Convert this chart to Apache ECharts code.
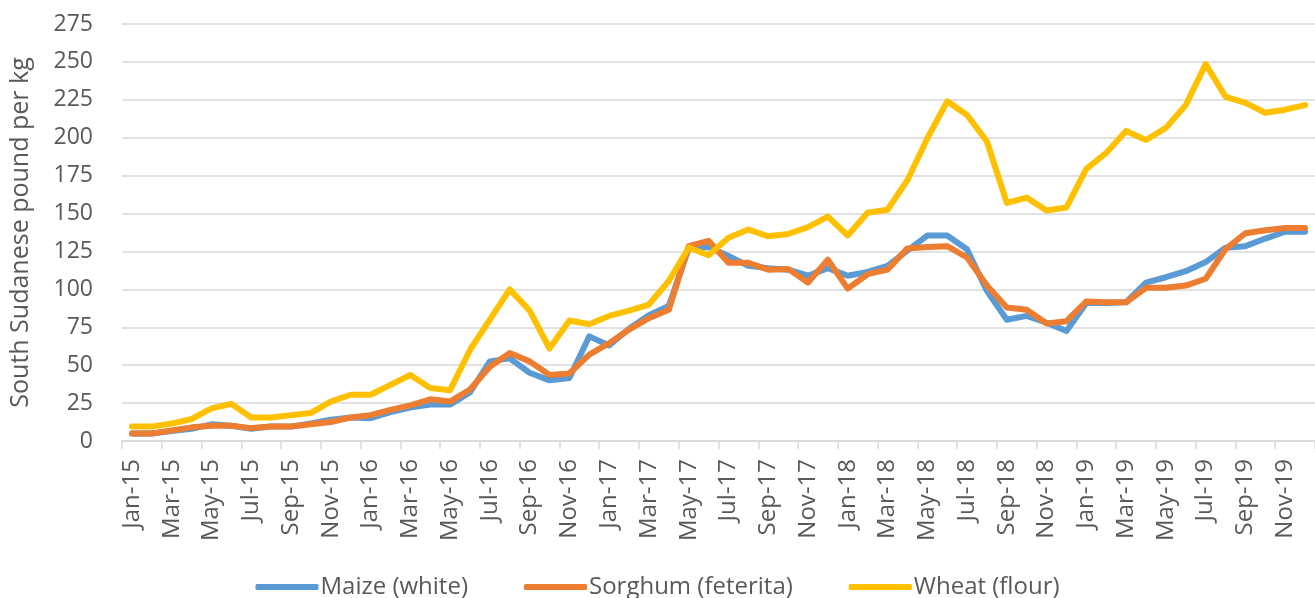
<!DOCTYPE html>
<html>
<head>
<meta charset="utf-8">
<script src="https://cdn.jsdelivr.net/npm/echarts@6/dist/echarts.min.js"></script>
<style>
html,body{margin:0;padding:0;background:#fff;}
#chart{width:1315px;height:598px;}
</style>
</head>
<body>
<div id="chart"></div>
<script>
var categories = ["Jan-15","Feb-15","Mar-15","Apr-15","May-15","Jun-15","Jul-15","Aug-15","Sep-15","Oct-15","Nov-15","Dec-15",
"Jan-16","Feb-16","Mar-16","Apr-16","May-16","Jun-16","Jul-16","Aug-16","Sep-16","Oct-16","Nov-16","Dec-16",
"Jan-17","Feb-17","Mar-17","Apr-17","May-17","Jun-17","Jul-17","Aug-17","Sep-17","Oct-17","Nov-17","Dec-17",
"Jan-18","Feb-18","Mar-18","Apr-18","May-18","Jun-18","Jul-18","Aug-18","Sep-18","Oct-18","Nov-18","Dec-18",
"Jan-19","Feb-19","Mar-19","Apr-19","May-19","Jun-19","Jul-19","Aug-19","Sep-19","Oct-19","Nov-19","Dec-19"];

var maize = [5,5,6.5,8,11,10,8,9.5,9.5,11.5,14,15.5,
15,19,22,24,24,32,52.5,54.5,45,40,41.5,69,
63,74,83,89,127,128,122,115.5,114,113,109,114,
109,111.5,115.5,125.5,135.5,135.5,126.5,99,80,82.5,78,72.5,
91,91,91.5,104.5,108,112,118,127.5,128.5,133.5,138,138];

var sorghum = [5,5,7,9,10,10,8.5,9.5,9.5,11,12.5,15.5,
17,20.5,23.5,27.5,26,34,49,58,52.5,43.5,44.5,57,
64.5,73.5,81,86.5,128.5,132,117.5,117.5,113,113.5,104.5,119.5,
100.5,110,113,127,128,128.5,121,102.5,88,86.5,77.5,79,
92,91.5,91.5,101,101,102.5,107,126.5,137,139,140.5,140.5];

var wheat = [9.5,9.5,11.5,14.5,21.5,24.5,15.5,15.5,17,18.5,26,30.5,
30.5,37,43.5,35,33.5,60,80,100,86,61,79.5,77,
82.5,86,90,105.5,127.5,122.5,134,139.5,135,136.5,141,148,
135.5,150.5,152.5,172,199.5,224,215,197.5,157,160.5,152,154,
179.5,190,204.5,198.5,206.5,221.5,248.5,227,223,216.5,218.5,221.5];

var seriesNames = ["Maize (white)","Sorghum (feterita)","Wheat (flour)"];
var colors = ["#5B9BD5","#ED7D31","#FFC000"];
var yAxisTitle = "South Sudanese pound per kg";

var FONT = "Open Sans";
var TXT = "#595959";

function mkSeries(name, data, color) {
  return {
    name: name, type: 'line', data: data, symbol: 'none',
    lineStyle: {color: color, width: 6, cap: 'round', join: 'round'},
    itemStyle: {color: color},
    animation: false
  };
}

var chart = echarts.init(document.getElementById('chart'), null, {renderer: 'canvas'});
chart.setOption({
  animation: false,
  backgroundColor: '#ffffff',
  grid: {left: 114, top: 24, width: 1207, height: 417, containLabel: false},
  legend: {
    top: 570, left: 'center',
    itemWidth: 63, itemHeight: 6, itemGap: 56,
    icon: 'roundRect',
    textStyle: {fontFamily: FONT, fontSize: 24, color: TXT, padding: [0,0,0,-3]},
    data: seriesNames
  },
  xAxis: {
    type: 'category', data: categories, boundaryGap: true,
    axisLine: {show: true, lineStyle: {color: '#D9D9D9', width: 1.5}},
    axisTick: {show: true, interval: 1, length: 8, lineStyle: {color: '#D9D9D9', width: 1.5}},
    axisLabel: {interval: 1, rotate: 90, margin: 18, fontFamily: FONT, fontSize: 24, color: TXT},
    splitLine: {show: false}
  },
  yAxis: {
    type: 'value', min: 0, max: 275, interval: 25,
    name: yAxisTitle, nameLocation: 'middle', nameGap: 89, nameRotate: 90,
    nameTextStyle: {fontFamily: FONT, fontSize: 25, color: TXT},
    axisLine: {show: false}, axisTick: {show: false},
    axisLabel: {margin: 29, fontFamily: FONT, fontSize: 23, color: TXT},
    splitLine: {show: true, lineStyle: {color: '#D9D9D9', width: 1.5}}
  },
  series: [
    mkSeries(seriesNames[0], maize, colors[0]),
    mkSeries(seriesNames[1], sorghum, colors[1]),
    mkSeries(seriesNames[2], wheat, colors[2])
  ]
});
</script>
</body>
</html>
